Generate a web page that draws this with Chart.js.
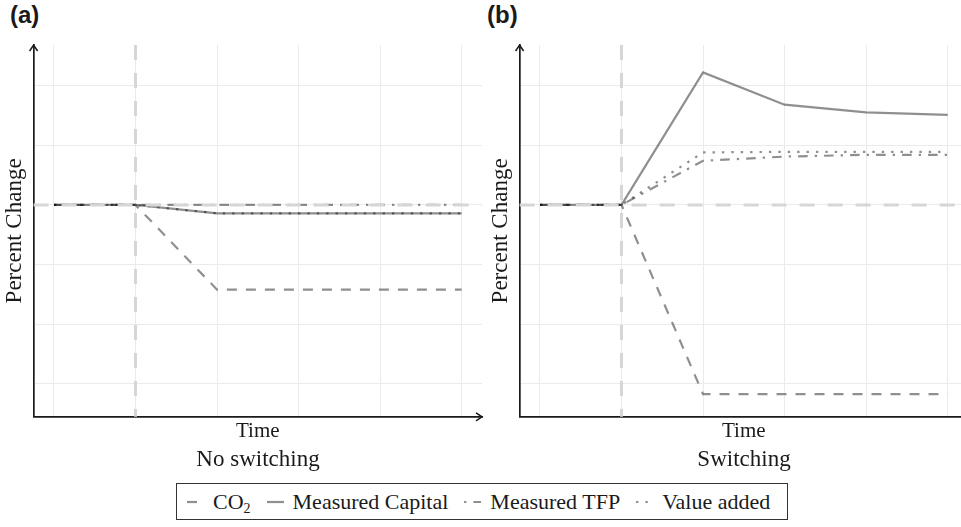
<!DOCTYPE html>
<html>
<head>
<meta charset="utf-8">
<script src="https://cdn.jsdelivr.net/npm/chart.js@4/dist/chart.umd.min.js"></script>
<style>
  body { margin: 0; width: 961px; height: 527px; overflow: hidden; background: #fff; position: relative; }
  .panel { position: absolute; top: 0; width: 490px; height: 450px; }
  .tag { position: absolute; top: 1px; font: bold 24px "Liberation Sans", Arial, sans-serif; color: #1a1a1a; }
  .sub { position: absolute; top: 446px; width: 448px; text-align: center; font: 23px "Liberation Serif", serif; color: #1a1a1a; }
  #legend { position: absolute; left: 176px; top: 483px; width: 600px; height: 35px; border: 1px solid #333;
            display: flex; align-items: center; padding-left: 10px; box-sizing: content-box;
            font: 22px "Liberation Serif", serif; color: #1a1a1a; white-space: nowrap; }
  #legend .item { display: flex; align-items: center; margin-right: 16px; }
  #legend svg { margin-right: 9px; }
  #legend sub { font-size: 14px; vertical-align: -4px; line-height: 0; }
</style>
</head>
<body>
<div class="tag" style="left:10px">(a)</div>
<div class="tag" style="left:487px">(b)</div>
<div class="panel" style="left:0"><canvas id="chartA"></canvas></div>
<div class="panel" style="left:486px"><canvas id="chartB"></canvas></div>
<div class="sub" style="left:34px">No switching</div>
<div class="sub" style="left:520px">Switching</div>
<div id="legend"></div>

<script>
// time steps and series values (percent change, arbitrary units)
const timeSteps = [0, 1, 2, 3, 4, 5];
const co2NoSwitch     = [0, 0, -1.42, -1.42, -1.42, -1.42];
const capitalNoSwitch = [0, 0, -0.14, -0.14, -0.14, -0.14];
const tfpNoSwitch     = [0, 0, 0, 0, 0, 0];
const valueNoSwitch   = [0, 0, -0.14, -0.14, -0.14, -0.14];
const co2Switch       = [0, 0, -3.17, -3.17, -3.17, -3.17];
const capitalSwitch   = [0, 0, 2.22, 1.68, 1.55, 1.51];
const tfpSwitch       = [0, 0, 0.74, 0.81, 0.84, 0.84];
const valueSwitch     = [0, 0, 0.88, 0.89, 0.89, 0.89];
const xGrid = [0, 1, 2, 3, 4, 5];
const yGrid = [-3, -2, -1, 0, 1, 2];
const seriesNames = ['CO2', 'Measured Capital', 'Measured TFP', 'Value added'];

const lineColor = 'rgba(0,0,0,0.44)';
const lw = 2.2;
const dashes = {
  'CO2': [10, 9],
  'Measured Capital': [],
  'Measured TFP': [2.4, 7, 9.6, 7],
  'Value added': [2.4, 7]
};

function pts(vals) {
  return vals.map(function(v, i) { return {x: timeSteps[i], y: v}; });
}

// reference lines + axis arrows
const extras = {
  id: 'extras',
  afterDatasetsDraw(chart) {
    const ctx = chart.ctx, a = chart.chartArea;
    const xs = chart.scales.x, ys = chart.scales.y;
    ctx.save();
    ctx.strokeStyle = '#d6d6d6';
    ctx.lineWidth = 3;
    ctx.setLineDash([15, 13]);
    const x1 = xs.getPixelForValue(1);
    ctx.beginPath(); ctx.moveTo(x1, a.top); ctx.lineTo(x1, a.bottom); ctx.stroke();
    const y0 = ys.getPixelForValue(0);
    ctx.beginPath(); ctx.moveTo(a.left, y0); ctx.lineTo(a.right, y0); ctx.stroke();
    ctx.restore();
  },
  afterDraw(chart) {
    const ctx = chart.ctx, a = chart.chartArea;
    ctx.save();
    ctx.strokeStyle = '#1a1a1a';
    ctx.lineWidth = 1.5;
    ctx.beginPath();
    ctx.moveTo(a.left - 4, a.top + 6); ctx.lineTo(a.left, a.top); ctx.lineTo(a.left + 4, a.top + 6);
    ctx.moveTo(a.right - 6, a.bottom - 4); ctx.lineTo(a.right, a.bottom); ctx.lineTo(a.right - 6, a.bottom + 4);
    ctx.stroke();
    ctx.restore();
  }
};

function makeChart(id, series) {
  const datasets = seriesNames.map(function(name, i) {
    return {
      label: name,
      data: pts(series[i]),
      borderColor: lineColor,
      borderWidth: lw,
      borderDash: dashes[name],
      pointRadius: 0,
      tension: 0,
      fill: false
    };
  });
  return new Chart(document.getElementById(id), {
    type: 'line',
    data: {datasets: datasets},
    plugins: [extras],
    options: {
      responsive: true,
      maintainAspectRatio: false,
      animation: false,
      layout: {padding: {left: 0, top: 45, right: 8, bottom: 4}},
      plugins: {legend: {display: false}, tooltip: {enabled: false}},
      scales: {
        x: {
          type: 'linear', min: -0.25, max: 5.25,
          afterBuildTicks: function(s) { s.ticks = xGrid.map(function(v) { return {value: v}; }); },
          ticks: {display: false},
          grid: {color: '#ebebeb', lineWidth: 1, drawTicks: false},
          border: {display: true, color: '#1a1a1a', width: 1.7},
          title: {display: true, text: 'Time', color: '#1a1a1a',
                  font: {family: 'Liberation Serif', size: 21}, padding: {top: 2, bottom: 2}}
        },
        y: {
          type: 'linear', min: -3.55, max: 2.68,
          afterBuildTicks: function(s) { s.ticks = yGrid.map(function(v) { return {value: v}; }); },
          ticks: {display: false},
          grid: {color: '#ebebeb', lineWidth: 1, drawTicks: false},
          border: {display: true, color: '#1a1a1a', width: 1.7},
          title: {display: true, text: 'Percent Change', color: '#1a1a1a',
                  font: {family: 'Liberation Serif', size: 23}, padding: {top: 1, bottom: 5}}
        }
      }
    }
  });
}

makeChart('chartA', [co2NoSwitch, capitalNoSwitch, tfpNoSwitch, valueNoSwitch]);
makeChart('chartB', [co2Switch, capitalSwitch, tfpSwitch, valueSwitch]);

// shared legend
const legend = document.getElementById('legend');
seriesNames.forEach(function(name) {
  const item = document.createElement('div');
  item.className = 'item';
  const dash = dashes[name].join(' ');
  item.innerHTML = '<svg width="17" height="10"><line x1="0" y1="5" x2="17" y2="5" stroke="' + lineColor +
    '" stroke-width="' + lw + '"' + (dash ? ' stroke-dasharray="' + dash + '"' : '') + '/></svg>' +
    '<span>' + (name === 'CO2' ? 'CO<sub>2</sub>' : name) + '</span>';
  legend.appendChild(item);
});
</script>
</body>
</html>
